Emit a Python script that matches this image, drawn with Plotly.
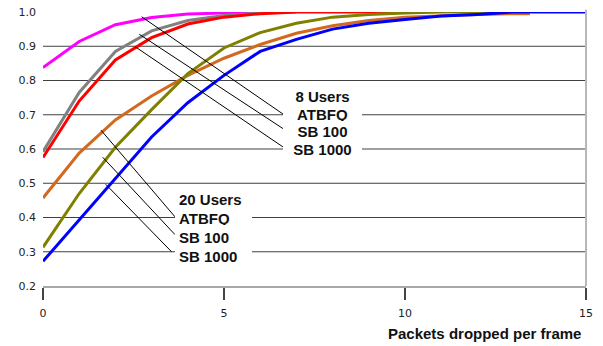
import plotly.graph_objects as go

# ---- data ----
x_magenta = [0, 1, 2, 3, 4, 5, 6]
y_magenta = [0.838, 0.914, 0.963, 0.984, 0.994, 0.998, 1.0]

x_gray = [0, 1, 2, 3, 4, 5, 6, 7]
y_gray = [0.592, 0.765, 0.885, 0.945, 0.975, 0.99, 0.997, 1.0]

x_red = [0, 1, 2, 3, 4, 5, 6, 7, 8, 9, 10]
y_red = [0.575, 0.74, 0.86, 0.925, 0.965, 0.985, 0.995, 1.0, 1.0, 1.0, 1.0]

x_orange = [0, 1, 2, 3, 4, 5, 6, 7, 8, 9, 10, 11, 12, 13, 13.45]
y_orange = [0.457, 0.588, 0.685, 0.755, 0.815, 0.865, 0.905, 0.938, 0.96, 0.975,
            0.985, 0.99, 0.993, 0.995, 0.995]

x_olive = [0, 1, 2, 3, 4, 5, 6, 7, 8, 9, 10, 11, 12, 12.7]
y_olive = [0.313, 0.47, 0.605, 0.715, 0.82, 0.895, 0.94, 0.967, 0.985, 0.993,
           0.997, 1.0, 1.0, 1.0]

x_blue = [0, 1, 2, 3, 4, 5, 6, 7, 8, 9, 10, 11, 12, 13, 14, 15]
y_blue = [0.272, 0.393, 0.512, 0.635, 0.735, 0.815, 0.885, 0.92, 0.95, 0.967,
          0.978, 0.988, 0.993, 1.0, 1.0, 1.0]

x_ticks = [0, 5, 10, 15]
y_ticks = [0.2, 0.3, 0.4, 0.5, 0.6, 0.7, 0.8, 0.9, 1.0]
grid_values = [0.3, 0.4, 0.5, 0.6, 0.7, 0.8, 0.9]

group1_labels = ["8 Users", "ATBFQ", "SB 100", "SB 1000"]
group2_labels = ["20 Users", "ATBFQ", "SB 100", "SB 1000"]
axis_title = "Packets dropped per frame"

# ---- figure ----
series = [
    (x_magenta, y_magenta, "#ff00ff"),
    (x_gray, y_gray, "#808080"),
    (x_red, y_red, "#ff0000"),
    (x_orange, y_orange, "#d2691e"),
    (x_olive, y_olive, "#808000"),
    (x_blue, y_blue, "#0000ff"),
]

fig = go.Figure()
for xs, ys, col in series:
    fig.add_trace(go.Scatter(x=xs, y=ys, mode="lines",
                             line=dict(color=col, width=3),
                             showlegend=False, hoverinfo="skip"))

shapes = []
for g in grid_values:
    shapes.append(dict(type="line", xref="paper", x0=0, x1=1, yref="y", y0=g, y1=g,
                       line=dict(color="#404040", width=1), layer="below"))
# right border
shapes.append(dict(type="line", xref="paper", x0=1, x1=1, yref="paper", y0=0, y1=1.008,
                   line=dict(color="#b8b8b8", width=2)))

# leader lines: (point on curve) -> (label)
leaders = [
    ((2.726, 0.986), (6.630, 0.702)),
    ((2.660, 0.935), (6.768, 0.650)),
    ((2.541, 0.899), (6.630, 0.606)),
    ((1.602, 0.655), (3.646, 0.402)),
    ((1.649, 0.576), (3.646, 0.350)),
    ((1.732, 0.497), (3.552, 0.300)),
]
for (xa, ya), (xb, yb) in leaders:
    shapes.append(dict(type="line", xref="x", yref="y", x0=xa, y0=ya, x1=xb, y1=yb,
                       line=dict(color="#000000", width=1)))

lab_font = dict(family="Liberation Sans, Arial, sans-serif", size=15, color="#111111")
annotations = []
g1_y = [0.752, 0.702, 0.650, 0.600]
for txt, yy in zip(group1_labels, g1_y):
    annotations.append(dict(x=6.63, y=yy, xref="x", yref="y", xanchor="left", yanchor="middle",
                            text="<b>%s</b>" % txt, showarrow=False, font=lab_font,
                            bgcolor="white", width=75, borderpad=2, borderwidth=0,
                            align="center"))
g2_y = [0.454, 0.3985, 0.3416, 0.2876]
for txt, yy in zip(group2_labels, g2_y):
    annotations.append(dict(x=3.646, y=yy, xref="x", yref="y", xanchor="left", yanchor="middle",
                            text="<b>%s</b>" % txt, showarrow=False, font=lab_font,
                            bgcolor="white", width=69, borderpad=4, borderwidth=0,
                            align="left"))
annotations.append(dict(x=0.994, y=-0.172, xref="paper", yref="paper", xanchor="right",
                        yanchor="middle", text="<b>%s</b>" % axis_title, showarrow=False,
                        font=lab_font))

fig.update_layout(
    template="none",
    width=603, height=346,
    margin=dict(l=43, r=17, t=12, b=60, pad=0),
    paper_bgcolor="white", plot_bgcolor="white",
    shapes=shapes, annotations=annotations,
    xaxis=dict(range=[0, 15], tickvals=x_ticks, ticktext=[str(v) for v in x_ticks],
               automargin=False,
               showgrid=False, zeroline=False, showline=True, linecolor="#a8a8a8",
               linewidth=2, ticks="outside", ticklen=12, tickwidth=2, tickcolor="#444",
               ticklabelstandoff=4, ticklabeloverflow="allow",
               tickfont=dict(family="DejaVu Sans", size=11, color="#222")),
    yaxis=dict(range=[0.2, 1.0], tickvals=y_ticks, ticktext=["%.1f" % v for v in y_ticks],
               automargin=False,
               showgrid=False, zeroline=False, showline=False, ticks="",
               ticklabelstandoff=6, ticklabeloverflow="allow",
               tickfont=dict(family="DejaVu Sans", size=11, color="#222")),
)

# remove the default page margin so the figure fills the window exactly
fig.write_html("out.html",
               config={"displayModeBar": False, "staticPlot": True},
               post_script="document.body.style.margin='0';document.body.style.overflow='hidden';")
